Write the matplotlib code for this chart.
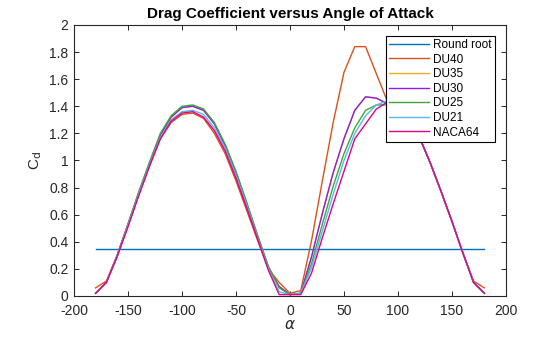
import matplotlib

matplotlib.use("Agg")
import matplotlib.pyplot as plt
from matplotlib.ticker import FormatStrFormatter

plt.rcParams["font.family"] = ["Liberation Sans", "DejaVu Sans"]
plt.rcParams["axes.unicode_minus"] = False

# angle of attack, deg
alpha = [-180, -170, -160, -150, -140, -130, -120, -110, -100, -90,
         -80, -70, -60, -50, -40, -30, -20, -10, 0,
         10, 20, 30, 40, 50, 60, 70, 80, 90,
         100, 110, 120, 130, 140, 150, 160, 170, 180]

round_root_alpha = [-180, 180]
round_root_cd = [0.35, 0.35]

du40_cd = [0.06, 0.11, 0.30, 0.52, 0.75, 0.96, 1.16, 1.28, 1.34, 1.35,
           1.31, 1.20, 1.05, 0.85, 0.63, 0.41, 0.20, 0.10, 0.02,
           0.04, 0.41, 0.85, 1.28, 1.65, 1.84, 1.84, 1.64, 1.44,
           1.40, 1.31, 1.17, 0.98, 0.77, 0.55, 0.32, 0.11, 0.06]
du35_cd = [0.02, 0.10, 0.30, 0.53, 0.76, 0.98, 1.19, 1.32, 1.39, 1.40,
           1.37, 1.27, 1.11, 0.91, 0.68, 0.44, 0.21, 0.07, 0.01,
           0.02, 0.29, 0.61, 0.91, 1.16, 1.37, 1.47, 1.46, 1.42,
           1.40, 1.31, 1.17, 0.98, 0.77, 0.55, 0.32, 0.10, 0.02]
du30_cd = [0.02, 0.10, 0.30, 0.53, 0.76, 0.98, 1.19, 1.32, 1.39, 1.40,
           1.37, 1.27, 1.11, 0.91, 0.68, 0.44, 0.21, 0.07, 0.01,
           0.02, 0.29, 0.61, 0.91, 1.16, 1.37, 1.47, 1.46, 1.42,
           1.40, 1.31, 1.17, 0.98, 0.77, 0.55, 0.32, 0.10, 0.02]
du25_cd = [0.02, 0.10, 0.30, 0.53, 0.77, 0.99, 1.20, 1.33, 1.40, 1.41,
           1.38, 1.28, 1.12, 0.92, 0.69, 0.45, 0.22, 0.06, 0.01,
           0.02, 0.24, 0.53, 0.81, 1.05, 1.24, 1.37, 1.41, 1.41,
           1.40, 1.31, 1.17, 0.98, 0.77, 0.55, 0.32, 0.10, 0.02]
du21_cd = [0.02, 0.10, 0.29, 0.52, 0.75, 0.97, 1.17, 1.30, 1.36, 1.37,
           1.34, 1.24, 1.09, 0.89, 0.67, 0.43, 0.20, 0.03, 0.01,
           0.02, 0.21, 0.48, 0.75, 1.00, 1.20, 1.33, 1.41, 1.44,
           1.40, 1.31, 1.17, 0.98, 0.77, 0.55, 0.32, 0.10, 0.02]
naca64_cd = [0.02, 0.10, 0.29, 0.51, 0.74, 0.96, 1.16, 1.29, 1.35, 1.36,
             1.32, 1.22, 1.07, 0.87, 0.65, 0.42, 0.19, 0.01, 0.01,
             0.01, 0.17, 0.43, 0.68, 0.92, 1.16, 1.27, 1.38, 1.43,
             1.40, 1.31, 1.17, 0.98, 0.77, 0.55, 0.32, 0.10, 0.02]

labels = ["Round root", "DU40", "DU35", "DU30", "DU25", "DU21", "NACA64"]
colors = ["#0072BD", "#D95319", "#EDB120", "#8A1FEA", "#43A33A", "#4DBEEE", "#E5008C"]

fig = plt.figure(figsize=(5.6, 3.37), dpi=100)
ax = fig.add_axes([0.1321, 0.1217, 0.7714, 0.8042])

ax.plot(round_root_alpha, round_root_cd, color=colors[0], lw=1.0, label=labels[0])
for cd, name, c in zip([du40_cd, du35_cd, du30_cd, du25_cd, du21_cd, naca64_cd], labels[1:], colors[1:]):
    ax.plot(alpha, cd, color=c, lw=1.0, label=name)

ax.set_xlim(-200, 200)
ax.set_ylim(0, 2)
ax.set_xticks(range(-200, 201, 50))
ax.set_yticks([i / 10 for i in range(0, 21, 2)])
ax.yaxis.set_major_formatter(FormatStrFormatter("%g"))

axis_color = "#262626"
for side in ax.spines.values():
    side.set_color(axis_color)
    side.set_linewidth(0.8)
ax.tick_params(direction="in", length=3.5, width=0.7, top=True, right=True,
               labelsize=10, colors=axis_color)
ax.tick_params(axis="x", pad=6)
ax.tick_params(axis="y", pad=4)

ax.set_title("Drag Coefficient versus Angle of Attack", fontsize=11, fontweight="bold", pad=5)
ax.set_xlabel(r"$\alpha$", fontsize=11, color=axis_color, labelpad=0)
ax.set_ylabel(r"C$_\mathrm{d}$", fontsize=11, color=axis_color, labelpad=3.5)

leg = ax.legend(loc="upper right", bbox_to_anchor=(0.9745, 0.959), borderaxespad=0,
                fontsize=8.5, handlelength=3.4, handletextpad=0.4, labelspacing=0.22,
                borderpad=0.25, fancybox=False, framealpha=1, edgecolor="black")
leg.get_frame().set_linewidth(0.8)

fig.savefig("out.png", dpi=100)
